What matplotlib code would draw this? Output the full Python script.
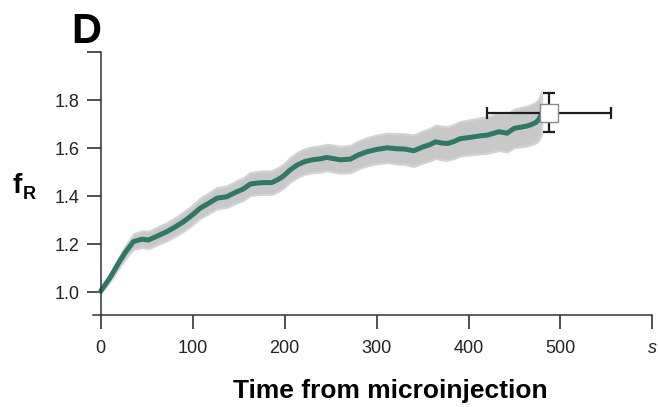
import matplotlib
matplotlib.use("Agg")
import matplotlib.pyplot as plt
import numpy as np

plt.rcParams["font.family"] = ["Liberation Sans", "DejaVu Sans"]

# mean fR trace (time in s)
time_s = [
    0, 10, 20, 26.5, 35.5, 44.6, 51.9, 62, 71.9, 80,
    90, 99, 108, 117, 126.4, 137, 148, 155, 162.6, 170,
    177, 186, 193, 199, 206, 213.5, 222, 231.6, 239, 246,
    253, 260.7, 271.6, 280, 289.8, 300, 311.5, 322, 330, 340.5,
    351.4, 358, 364.2, 371, 377, 384, 391, 399, 406, 413,
    420.5, 427, 433, 442, 449.5, 457, 464, 469, 473, 476,
    478, 479.5,
]
f_r = [
    1.005, 1.06, 1.125, 1.165, 1.211, 1.221, 1.218, 1.235, 1.2525, 1.27,
    1.294, 1.32, 1.35, 1.37, 1.392, 1.398, 1.419, 1.43, 1.451, 1.455,
    1.457, 1.457, 1.47, 1.485, 1.51, 1.53, 1.545, 1.553, 1.556, 1.562,
    1.557, 1.552, 1.555, 1.572, 1.586, 1.595, 1.602, 1.598, 1.597, 1.59,
    1.607, 1.615, 1.627, 1.622, 1.62, 1.628, 1.64, 1.644, 1.648, 1.652,
    1.655, 1.662, 1.669, 1.663, 1.683, 1.688, 1.693, 1.7, 1.707, 1.718,
    1.732, 1.748,
]
# half width of the grey error band
band = [
    0.008, 0.016, 0.023, 0.027, 0.032, 0.035, 0.036, 0.037, 0.038, 0.039,
    0.040, 0.041, 0.042, 0.043, 0.044, 0.045, 0.046, 0.047, 0.048, 0.048,
    0.049, 0.049, 0.050, 0.050, 0.051, 0.052, 0.053, 0.054, 0.055, 0.055,
    0.056, 0.056, 0.057, 0.058, 0.059, 0.060, 0.061, 0.063, 0.064, 0.066,
    0.067, 0.068, 0.069, 0.070, 0.070, 0.071, 0.072, 0.073, 0.074, 0.075,
    0.076, 0.077, 0.078, 0.079, 0.080, 0.082, 0.083, 0.084, 0.085, 0.086,
    0.087, 0.088,
]

# end-point summary (square with error bars)
end_time = 487.5
end_fr = 1.748
end_time_err = 67.5
end_fr_err = 0.081

x_ticks = [0, 100, 200, 300, 400, 500, 600]
x_tick_labels = ["0", "100", "200", "300", "400", "500", "s"]
y_ticks = [1.0, 1.2, 1.4, 1.6, 1.8, 2.0]
y_tick_labels = ["1.0", "1.2", "1.4", "1.6", "1.8", ""]

fig = plt.figure(figsize=(6.58, 4.07), dpi=100)
ax = fig.add_axes([0.1419, 0.2253, 0.8496, 0.6462])

t = np.array(time_s)
y = np.array(f_r)
b = np.array(band)
ax.fill_between(t, y - b, y + b, color="#c8c8c8", linewidth=1.5,
                edgecolor="#d4d4d4", zorder=1)
ax.plot(t, y, color="#2e7866", linewidth=3.6, solid_capstyle="round",
        solid_joinstyle="round", zorder=2)

ax.errorbar(end_time, end_fr, xerr=end_time_err, yerr=end_fr_err,
            fmt="none", ecolor="#1e1e1e", elinewidth=1.6, capsize=4.3,
            capthick=1.6, zorder=3)
ax.plot(end_time, end_fr, marker="s", markersize=13, markerfacecolor="white",
        markeredgecolor="#8a8a8a", markeredgewidth=1.0, zorder=4)

ax.set_xlim(-8, 600)
ax.set_ylim(0.904, 2.0)
for side in ("top", "right"):
    ax.spines[side].set_visible(False)
ax.spines["left"].set_position(("data", 0))
for side in ("left", "bottom"):
    ax.spines[side].set_linewidth(1.1)
    ax.spines[side].set_color("#333333")

ax.set_xticks(x_ticks)
ax.set_xticklabels(x_tick_labels)
ax.get_xticklabels()[-1].set_fontstyle("italic")
ax.set_yticks(y_ticks)
ax.set_yticklabels(y_tick_labels)
ax.tick_params(axis="both", length=10, width=1.2, color="#333333",
               labelsize=13, labelcolor="#222222")
ax.tick_params(axis="x", pad=8)
ax.tick_params(axis="y", pad=5)

fig.text(0.108, 0.894, "D", fontsize=30, fontweight="bold", ha="left",
         va="baseline")
fig.text(0.0193, 0.525, "f", fontsize=20, fontweight="bold", ha="left",
         va="baseline")
fig.text(0.0345, 0.510, "R", fontsize=13, fontweight="bold", ha="left",
         va="baseline")
fig.text(0.5935, 0.022, "Time from microinjection", fontsize=19,
         fontweight="bold", ha="center", va="baseline")

fig.savefig("out.png", dpi=100)
